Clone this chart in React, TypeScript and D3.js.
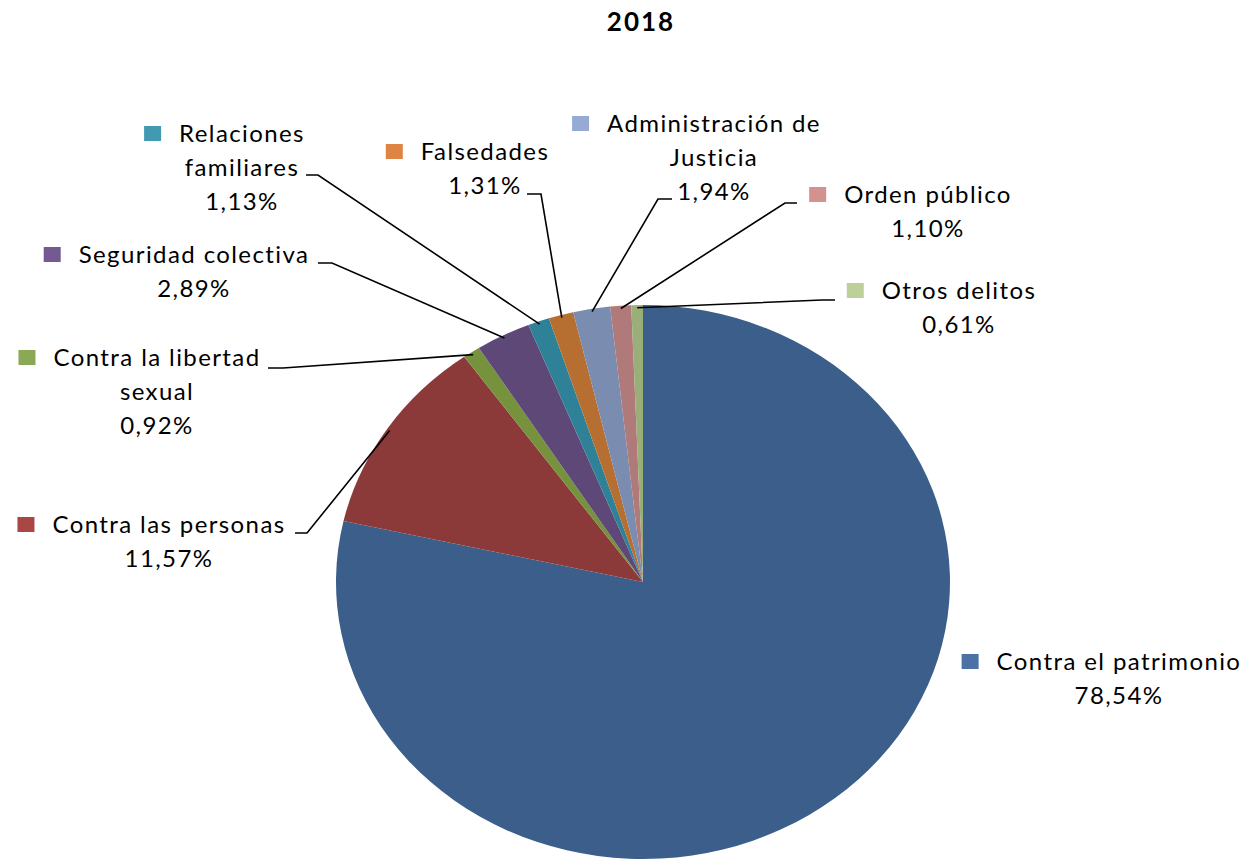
import React, { useEffect, useRef } from "react";
import * as d3 from "d3";

const title = "2018";
const categories = [
  "Contra el patrimonio",
  "Contra las personas",
  "Contra la libertad sexual",
  "Seguridad colectiva",
  "Relaciones familiares",
  "Falsedades",
  "Administración de Justicia",
  "Orden público",
  "Otros delitos",
];
const values = [78.54, 11.57, 0.92, 2.89, 1.13, 1.31, 1.94, 1.1, 0.61];
const labelLines = [
  ["Contra el patrimonio"],
  ["Contra las personas"],
  ["Contra la libertad", "sexual"],
  ["Seguridad colectiva"],
  ["Relaciones", "familiares"],
  ["Falsedades"],
  ["Administración de", "Justicia"],
  ["Orden público"],
  ["Otros delitos"],
];
const sliceColors = ["#3B5E8A", "#8B3A39", "#76923C", "#5E4878", "#2F8197", "#B66F30", "#7A8DB0", "#B07A7A", "#9AAE7A"];
const keyColors = ["#4A72A6", "#AA4644", "#8BA954", "#735A93", "#4199B2", "#DE8544", "#95ABD5", "#D39190", "#BDD09A"];

// layout: text centre x, first baseline y, leader anchor (x1 -> x2 at y)
const layout = [
  { cx: 1119, by: 670, leader: null },
  { cx: 169, by: 533, leader: [295, 307, 533] },
  { cx: 157, by: 366, leader: [268, 283, 368] },
  { cx: 194, by: 263, leader: [318, 332, 263] },
  { cx: 242, by: 142, leader: [306, 318, 175] },
  { cx: 485, by: 160, leader: [527, 541, 194] },
  { cx: 714, by: 132, leader: [672, 658, 199] },
  { cx: 928, by: 203, leader: [797, 785, 203] },
  { cx: 959, by: 299, leader: [835, 822, 300] },
];

const W = 1252;
const H = 862;
const CX = 643;
const CY = 582;
const RX = 307;
const RY = 277;
const LINE_H = 34;
const FONT = "Lato, 'Open Sans', sans-serif";

export default function App() {
  const ref = useRef<SVGSVGElement | null>(null);

  useEffect(() => {
    const svg = d3.select(ref.current);
    svg.selectAll("*").remove();

    const data = categories.map((c, i) => ({ c, v: values[i], i }));
    const pie = d3.pie<any>().value((d: any) => d.v).sort(null).startAngle(0).endAngle(2 * Math.PI);
    const arcs = pie(data);
    const arc = d3.arc<any>().innerRadius(0).outerRadius(RY);

    const g = svg.append("g").attr("transform", `translate(${CX},${CY}) scale(${RX / RY},1)`);
    g.selectAll("path")
      .data(arcs)
      .join("path")
      .attr("d", arc as any)
      .attr("fill", (d: any) => sliceColors[d.data.i]);

    svg
      .append("text")
      .attr("x", 641)
      .attr("y", 31)
      .attr("text-anchor", "middle")
      .attr("font-family", FONT)
      .attr("font-weight", "bold")
      .attr("font-size", 26)
      .attr("letter-spacing", 2)
      .attr("fill", "#000")
      .text(title);

    arcs.forEach((a: any) => {
      const i = a.data.i;
      const L = layout[i];
      const lines = [...labelLines[i], values[i].toFixed(2).replace(".", ",") + "%"];
      const tg = svg.append("g");
      let firstWidth = 0;
      lines.forEach((ln, k) => {
        const t = tg
          .append("text")
          .attr("x", L.cx)
          .attr("y", L.by + k * LINE_H)
          .attr("text-anchor", "middle")
          .attr("font-family", FONT)
          .attr("font-size", 24)
          .attr("letter-spacing", 1.4)
          .attr("fill", "#000")
          .text(ln);
        if (k === 0) firstWidth = (t.node() as SVGTextElement).getComputedTextLength();
      });
      const left = L.cx - firstWidth / 2;
      tg.append("rect")
        .attr("x", left - 35)
        .attr("y", L.by - 16)
        .attr("width", 17)
        .attr("height", 15)
        .attr("fill", keyColors[i]);

      if (L.leader) {
        const mid = (a.startAngle + a.endAngle) / 2;
        const ex = CX + RX * 0.99 * Math.sin(mid);
        const ey = CY - RY * 0.99 * Math.cos(mid);
        const [x1, x2, y] = L.leader;
        svg
          .append("path")
          .attr("d", `M${x1},${y}L${x2},${y}L${ex},${ey}`)
          .attr("fill", "none")
          .attr("stroke", "#000")
          .attr("stroke-width", 1.6);
      }
    });
  }, []);

  return <svg ref={ref} width={W} height={H} style={{ display: "block", position: "absolute", left: 0, top: 0 }} />;
}
